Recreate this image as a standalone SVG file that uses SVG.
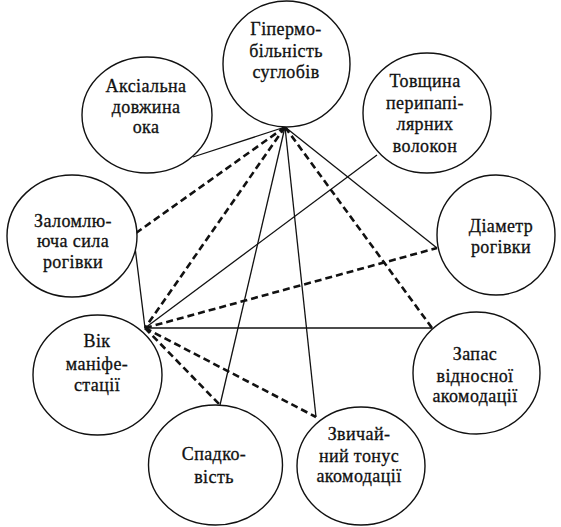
<svg xmlns="http://www.w3.org/2000/svg" width="561" height="527" viewBox="0 0 561 527">
<style>
.n{fill:#fff;stroke:#111;stroke-width:1.4}
text{font-family:'Liberation Serif','DejaVu Serif',serif;font-size:18px;fill:#111;stroke:#111;stroke-width:0.3;text-anchor:middle;letter-spacing:0.4px}
.s{stroke:#111;stroke-width:1.3;fill:none}
.d{stroke:#111;stroke-width:2.6;fill:none;stroke-dasharray:7 4}
</style>
<rect width="561" height="527" fill="#fff"/>
<g id="connectors">
<line class="s" x1="285" y1="127" x2="193" y2="157"/>
<line class="d" x1="285" y1="127" x2="136" y2="233"/>
<line class="d" x1="285" y1="127" x2="145" y2="328"/>
<line class="s" x1="285" y1="127" x2="220" y2="405"/>
<line class="s" x1="285" y1="127" x2="316" y2="417"/>
<line class="d" x1="285" y1="127" x2="432" y2="328"/>
<line class="s" x1="285" y1="127" x2="437" y2="248"/>
<line class="s" x1="145" y1="328" x2="135" y2="247"/>
<line class="s" x1="145" y1="328" x2="377" y2="155"/>
<line class="d" x1="145" y1="328" x2="437" y2="248"/>
<line class="s" x1="145" y1="328" x2="432" y2="328"/>
<line class="d" x1="145" y1="328" x2="316" y2="417"/>
<line class="d" x1="145" y1="328" x2="220" y2="405"/>
</g>
<g id="n-gipermo">
<ellipse class="n" cx="286.5" cy="64" rx="63.5" ry="63"/>
<text x="286" y="35">Гіпермо-</text>
<text x="286" y="57">більність</text>
<text x="286" y="78">суглобів</text>
</g>
<g id="n-aksialna">
<ellipse class="n" cx="147" cy="115" rx="65" ry="58"/>
<text x="146" y="92">Аксіальна</text>
<text x="146" y="113">довжина</text>
<text x="146" y="133">ока</text>
</g>
<g id="n-tovshchyna">
<ellipse class="n" cx="427" cy="113" rx="64" ry="60"/>
<text x="425" y="87">Товщина</text>
<text x="425" y="109">перипапі-</text>
<text x="425" y="130">лярних</text>
<text x="425" y="152">волокон</text>
</g>
<g id="n-diametr">
<ellipse class="n" cx="496" cy="235" rx="59" ry="60"/>
<text x="501" y="232">Діаметр</text>
<text x="501" y="253">рогівки</text>
</g>
<g id="n-zalomlyuyucha">
<ellipse class="n" cx="72" cy="236" rx="65" ry="61"/>
<text x="73" y="227">Заломлю-</text>
<text x="73" y="247">юча сила</text>
<text x="73" y="268">рогівки</text>
</g>
<g id="n-vik">
<ellipse class="n" cx="97.5" cy="375" rx="64.5" ry="60"/>
<text x="97" y="347">Вік</text>
<text x="97" y="370">маніфе-</text>
<text x="97" y="391">стації</text>
</g>
<g id="n-spadkovist">
<ellipse class="n" cx="215.5" cy="465" rx="67" ry="60"/>
<text x="214" y="460">Спадко-</text>
<text x="214" y="483">вість</text>
</g>
<g id="n-zvychainyi">
<ellipse class="n" cx="361" cy="466" rx="64" ry="59"/>
<text x="359" y="440">Звичай-</text>
<text x="359" y="462">ний тонус</text>
<text x="359" y="482">акомодації</text>
</g>
<g id="n-zapas">
<ellipse class="n" cx="476.5" cy="373" rx="63.5" ry="61"/>
<text x="475" y="360">Запас</text>
<text x="475" y="382">відносної</text>
<text x="475" y="402">акомодації</text>
</g>
</svg>
